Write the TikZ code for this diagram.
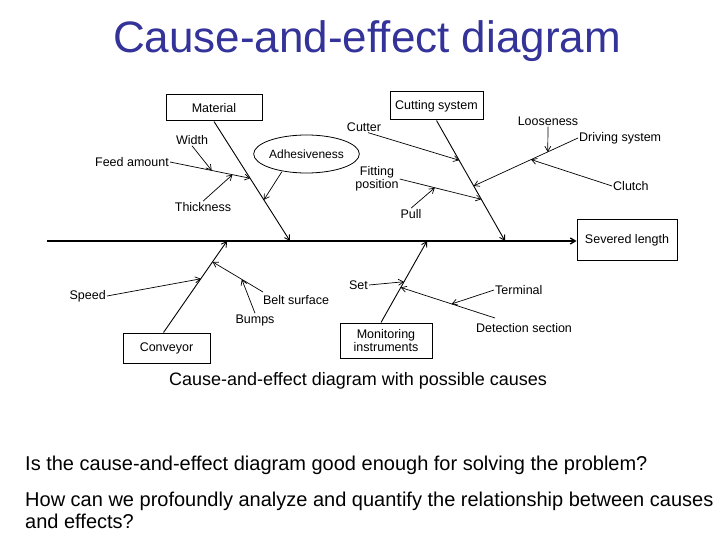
\documentclass[tikz,border=0pt]{standalone}
\usepackage{fontspec}
\setmainfont{Liberation Sans}
\usetikzlibrary{arrows.meta,shapes.geometric,calc}
\definecolor{titleblue}{RGB}{51,51,153}
\begin{document}
\begin{tikzpicture}[x=1pt,y=-1pt,
  box/.style={draw, line width=1pt, inner sep=0pt, align=center, font=\fontsize{12.5}{13.5}\selectfont},
  lbl/.style={inner sep=1pt, align=center, font=\fontsize{12.5}{13.5}\selectfont},
  arr/.style={-{Straight Barb[length=5pt,width=6pt]}, line width=0.7pt},
  bone/.style={arr, line width=0.9pt}]
\useasboundingbox (0,0) rectangle (720,540);
\fill[white] (0,0) rectangle (720,540);

% title
\node[text=titleblue, font=\fontsize{44}{48}\selectfont] (title) at (367,41) {Cause-and-effect diagram};

% effect and spine
\node[box, minimum width=100, minimum height=40] (severed) at (627,240) {Severed length};
\coordinate (spineL) at (47,241);
\draw[arr, line width=1.3pt] (spineL) -- (severed.west |- spineL);

% Material
\node[box, minimum width=96, minimum height=26] (material) at (214,108) {Material};
\coordinate (mEnd) at (290,241);
\draw[bone] (material.south) -- (mEnd);
\node[lbl, anchor=east] (feed) at (170,162) {Feed amount};
\coordinate (fEnd) at ($(material.south)!0.475!(mEnd)$);
\draw[arr] (feed.east) -- (fEnd);
\node[lbl] (width) at (192,140) {Width};
\draw[arr] (width.south) -- ($(feed.east)!0.52!(fEnd)$);
\node[lbl] (thick) at (203,207) {Thickness};
\draw[arr] (thick.north) -- ($(feed.east)!0.78!(fEnd)$);
\node[draw, ellipse, line width=0.8pt, inner sep=0pt, minimum width=85, minimum height=38, font=\fontsize{12}{13}\selectfont] (adh) at (306.5,154) {Adhesiveness};
\draw[arr] (adh.south west) ++(13,4) coordinate (adhS) -- ($(material.south)!0.656!(mEnd)$);

% Cutting system
\node[box, minimum width=93, minimum height=28] (cutting) at (436.5,106) {Cutting system};
\coordinate (cEnd) at (505,241);
\draw[bone] (cutting.south) -- (cEnd);
\node[lbl] (cutter) at (364,127) {Cutter};
\draw[arr] (cutter.south) ++(4,0) coordinate (cutS) -- ($(cutting.south)!0.33!(cEnd)$);
\node[lbl] (fitting) at (377,179) {Fitting\\position};
\coordinate (fitEnd) at ($(cutting.south)!0.654!(cEnd)$);
\draw[arr] (fitting.east) -- (fitEnd);
\node[lbl] (pull) at (411,214) {Pull};
\draw[arr] (pull.north) -- ($(fitting.east)!0.43!(fitEnd)$);
\node[lbl, anchor=west] (driving) at (578,138) {Driving system};
\coordinate (dEnd) at ($(cutting.south)!0.543!(cEnd)$);
\draw[arr] (driving.west) -- (dEnd);
\node[lbl] (loose) at (548,121) {Looseness};
\draw[arr] (loose.south) -- ($(driving.west)!0.29!(dEnd)$);
\node[lbl, anchor=west] (clutch) at (612,186) {Clutch};
\draw[arr] (clutch.west) -- ($(driving.west)!0.45!(dEnd)$);

% Conveyor
\node[box, minimum width=87, minimum height=30] (conveyor) at (166.5,348) {Conveyor};
\coordinate (vEnd) at (227,241);
\draw[bone] (conveyor.north) ++(-3,0) coordinate (convS) -- (vEnd);
\node[lbl, anchor=east] (speed) at (107,296) {Speed};
\draw[arr] (speed.east) -- ($(convS)!0.587!(vEnd)$);
\node[lbl] (belt) at (296,300) {Belt surface};
\coordinate (beltS) at (263,292);
\coordinate (bEnd) at ($(convS)!0.772!(vEnd)$);
\draw[arr] (beltS) -- (bEnd);
\node[lbl] (bumps) at (255,320) {Bumps};
\draw[arr] (bumps.north) -- ($(beltS)!0.42!(bEnd)$);

% Monitoring instruments
\node[box, minimum width=92, minimum height=35] (monitor) at (386,340.5) {Monitoring\\instruments};
\coordinate (moEnd) at (427,241);
\draw[bone] (monitor.north) ++(-5,0) coordinate (monS) -- (moEnd);
\node[lbl, anchor=east] (set) at (369,285) {Set};
\draw[arr] (set.east) -- ($(monS)!0.5!(moEnd)$);
\node[lbl] (detect) at (524,328) {Detection section};
\coordinate (detS) at (495,318);
\coordinate (detEnd) at ($(monS)!0.43!(moEnd)$);
\draw[arr] (detS) -- (detEnd);
\node[lbl, anchor=west] (terminal) at (494,290) {Terminal};
\draw[arr] (terminal.west) -- ($(detS)!0.46!(detEnd)$);

% captions
\node[font=\fontsize{18}{20}\selectfont] (caption) at (358,381) {Cause-and-effect diagram with possible causes};
\node[anchor=west, font=\fontsize{20}{22}\selectfont, inner sep=0pt] (q1) at (25,465) {Is the cause-and-effect diagram good enough for solving the problem?};
\node[anchor=north west, align=left, font=\fontsize{20}{22}\selectfont, inner sep=0pt] (q2) at (25,492) {How can we profoundly analyze and quantify the relationship between causes\\and effects?};
\end{tikzpicture}
\end{document}
